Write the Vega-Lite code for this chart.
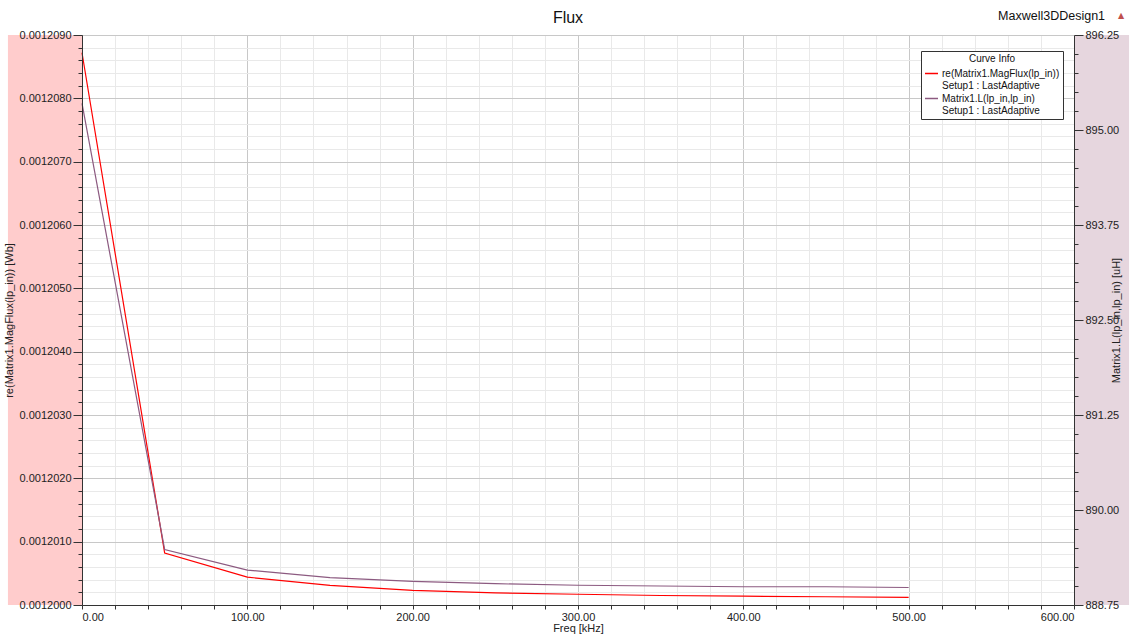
{
  "$schema": "https://vega.github.io/schema/vega-lite/v6.json",
  "autosize": {"type": "none"},
  "width": 992,
  "height": 570,
  "padding": {"left": 82, "top": 35, "right": 57, "bottom": 33},
  "background": "white",
  "title": {"text": "Flux", "anchor": "middle", "frame": "group", "fontSize": 16, "fontWeight": "normal", "font": "Liberation Sans", "color": "#111", "offset": -16, "dx": -10},
  "config": {
    "view": {"stroke": "#333", "strokeWidth": 1},
    "font": "Liberation Sans",
    "axis": {"labelFont": "Liberation Sans", "labelFontSize": 11, "labelColor": "#222", "titleFont": "Liberation Sans", "titleFontSize": 11, "titleFontWeight": "normal", "titleColor": "#222", "domainColor": "#333", "tickColor": "#333", "labelOverlap": false}
  },
  "datasets": {
    "curves": [
      {"freq": 0, "flux": 0.00120872, "L": 895.35},
      {"freq": 50, "flux": 0.00120082, "L": 889.48},
      {"freq": 100, "flux": 0.00120044, "L": 889.21},
      {"freq": 150, "flux": 0.00120031, "L": 889.11},
      {"freq": 200, "flux": 0.00120023, "L": 889.06},
      {"freq": 250, "flux": 0.00120019, "L": 889.03},
      {"freq": 300, "flux": 0.00120017, "L": 889.01},
      {"freq": 350, "flux": 0.00120015, "L": 889.00},
      {"freq": 400, "flux": 0.00120014, "L": 888.99},
      {"freq": 450, "flux": 0.00120013, "L": 888.99},
      {"freq": 500, "flux": 0.00120012, "L": 888.98}
    ],
    "one": [{"k": 1}]
  },
  "data": {"name": "curves"},
  "layer": [
    {
      "resolve": {"axis": {"y": "independent"}},
      "layer": [
        {
          "data": {"name": "one"},
          "mark": {"type": "rect", "color": "#ffcccc"},
          "encoding": {
            "x": {"datum": -44.8, "type": "quantitative", "title": "Freq [kHz]", "scale": {"domain": [0, 600], "nice": false, "zero": false},
              "axis": {"tickCount": 30, "labelExpr": "datum.value % 100 == 0 ? format(datum.value, '.2f') : ''", "tickSize": 4, "labelPadding": 2, "titlePadding": 0, "grid": true, "gridColor": {"condition": {"test": "datum.value % 100 == 0", "value": "#c8c8c8"}, "value": "#e9e9e9"}}},
            "x2": {"datum": 0},
            "y": {"datum": 0.0012, "type": "quantitative", "title": null, "scale": {"domain": [0.0012, 0.001209], "nice": false, "zero": false},
              "axis": {"orient": "left", "tickCount": 45, "labels": false, "ticks": false, "domain": false, "grid": true, "zindex": 0, "maxExtent": 0, "minExtent": 0, "gridColor": {"condition": {"test": "abs(round(datum.value * 1e7)) % 10 == 0", "value": "#c8c8c8"}, "value": "#e9e9e9"}}},
            "y2": {"datum": 0.001209}
          }
        },
        {
          "data": {"name": "one"},
          "mark": {"type": "rect", "color": "#e6d6de"},
          "encoding": {
            "x": {"datum": 600, "type": "quantitative", "title": "Freq [kHz]", "scale": {"domain": [0, 600], "nice": false, "zero": false},
              "axis": {"tickCount": 30, "labelExpr": "datum.value % 100 == 0 ? format(datum.value, '.2f') : ''", "tickSize": 4, "labelPadding": 2, "titlePadding": 0, "grid": true, "gridColor": {"condition": {"test": "datum.value % 100 == 0", "value": "#c8c8c8"}, "value": "#e9e9e9"}}},
            "x2": {"datum": 633.3},
            "y": {"datum": 0.0012, "type": "quantitative", "scale": {"domain": [0.0012, 0.001209], "nice": false, "zero": false}, "axis": null},
            "y2": {"datum": 0.001209}
          }
        },
        {
          "data": {"name": "one"},
          "mark": {"type": "text", "align": "right", "baseline": "middle", "fontSize": 12.5, "font": "Liberation Sans", "color": "#111"},
          "encoding": {
            "x": {"datum": 618.8, "type": "quantitative", "title": "Freq [kHz]", "scale": {"domain": [0, 600], "nice": false, "zero": false},
              "axis": {"tickCount": 30, "labelExpr": "datum.value % 100 == 0 ? format(datum.value, '.2f') : ''", "tickSize": 4, "labelPadding": 2, "titlePadding": 0, "grid": true, "gridColor": {"condition": {"test": "datum.value % 100 == 0", "value": "#c8c8c8"}, "value": "#e9e9e9"}}},
            "y": {"datum": 0.0012093, "type": "quantitative", "scale": {"domain": [0.0012, 0.001209], "nice": false, "zero": false}, "axis": null},
            "text": {"value": "Maxwell3DDesign1"}
          }
        },
        {
          "data": {"name": "one"},
          "mark": {"type": "text", "align": "center", "baseline": "middle", "fontSize": 8, "font": "DejaVu Sans", "color": "#c0504d"},
          "encoding": {
            "x": {"datum": 628.4, "type": "quantitative", "title": "Freq [kHz]", "scale": {"domain": [0, 600], "nice": false, "zero": false},
              "axis": {"tickCount": 30, "labelExpr": "datum.value % 100 == 0 ? format(datum.value, '.2f') : ''", "tickSize": 4, "labelPadding": 2, "titlePadding": 0, "grid": true, "gridColor": {"condition": {"test": "datum.value % 100 == 0", "value": "#c8c8c8"}, "value": "#e9e9e9"}}},
            "y": {"datum": 0.0012093, "type": "quantitative", "scale": {"domain": [0.0012, 0.001209], "nice": false, "zero": false}, "axis": null},
            "text": {"value": "▲"}
          }
        },
        {
          "mark": {"type": "line", "strokeWidth": 1.2},
          "encoding": {
            "x": {"field": "freq", "type": "quantitative", "title": "Freq [kHz]", "scale": {"domain": [0, 600], "nice": false, "zero": false},
              "axis": {"tickCount": 30, "labelExpr": "datum.value % 100 == 0 ? format(datum.value, '.2f') : ''", "tickSize": 4, "labelPadding": 2, "titlePadding": 0, "grid": true, "gridColor": {"condition": {"test": "datum.value % 100 == 0", "value": "#c8c8c8"}, "value": "#e9e9e9"}}},
            "y": {"field": "flux", "type": "quantitative", "title": "re(Matrix1.MagFlux(lp_in)) [Wb]", "scale": {"domain": [0.0012, 0.001209], "nice": false, "zero": false},
              "axis": {"orient": "left", "tickCount": 45, "labelExpr": "abs(round(datum.value * 1e7)) % 10 == 0 ? format(datum.value, '.7f') : ''", "tickSize": {"condition": {"test": "abs(round(datum.value * 1e7)) % 10 == 0", "value": 9}, "value": 4}, "labelPadding": 2, "titleX": -68, "grid": false, "zindex": 1}},
            "color": {"datum": "re(Matrix1.MagFlux(lp_in))", "type": "nominal",
              "scale": {"domain": ["re(Matrix1.MagFlux(lp_in))", "Matrix1.L(lp_in,lp_in)"], "range": ["#ff0000", "#8c5a80"]},
              "legend": {
                "orient": "none", "legendX": 839, "legendY": 16, "zindex": 2,
                "title": "Curve Info", "titleAnchor": "middle", "titleFontSize": 10, "titleFontWeight": "normal", "titleColor": "#111", "titleFont": "Liberation Sans", "titlePadding": 2,
                "labelExpr": "[datum.label, 'Setup1 : LastAdaptive']",
                "labelFontSize": 10, "labelFont": "Liberation Sans", "labelColor": "#111", "labelLimit": 200, "labelOffset": 3,
                "symbolType": "stroke", "symbolStrokeWidth": 1.5, "symbolSize": 169,
                "strokeColor": "#333", "fillColor": "white", "padding": 3, "rowPadding": 0
              }
            }
          }
        }
      ]
    },
    {
      "mark": {"type": "line", "strokeWidth": 1.2},
      "encoding": {
        "x": {"field": "freq", "type": "quantitative", "title": "Freq [kHz]", "scale": {"domain": [0, 600], "nice": false, "zero": false},
          "axis": {"tickCount": 30, "labelExpr": "datum.value % 100 == 0 ? format(datum.value, '.2f') : ''", "tickSize": 4, "labelPadding": 2, "titlePadding": 0, "grid": true, "gridColor": {"condition": {"test": "datum.value % 100 == 0", "value": "#c8c8c8"}, "value": "#e9e9e9"}}},
        "y": {"field": "L", "type": "quantitative", "title": "Matrix1.L(lp_in,lp_in) [uH]",
          "scale": {"domain": [888.75, 896.25], "nice": false, "zero": false},
          "axis": {
            "orient": "right",
            "values": [888.75,889,889.25,889.5,889.75,890,890.25,890.5,890.75,891,891.25,891.5,891.75,892,892.25,892.5,892.75,893,893.25,893.5,893.75,894,894.25,894.5,894.75,895,895.25,895.5,895.75,896,896.25],
            "labelExpr": "round((datum.value - 888.75) * 4) % 5 == 0 ? format(datum.value, '.2f') : ''",
            "tickSize": {"condition": {"test": "round((datum.value - 888.75) * 4) % 5 == 0", "value": 9}, "value": 4},
            "labelPadding": 2,
            "titleAngle": 270,
            "titleX": 47,
            "grid": false,
            "zindex": 1
          }
        },
        "color": {"datum": "Matrix1.L(lp_in,lp_in)", "type": "nominal"}
      }
    }
  ],
  "resolve": {"scale": {"y": "independent"}}
}
